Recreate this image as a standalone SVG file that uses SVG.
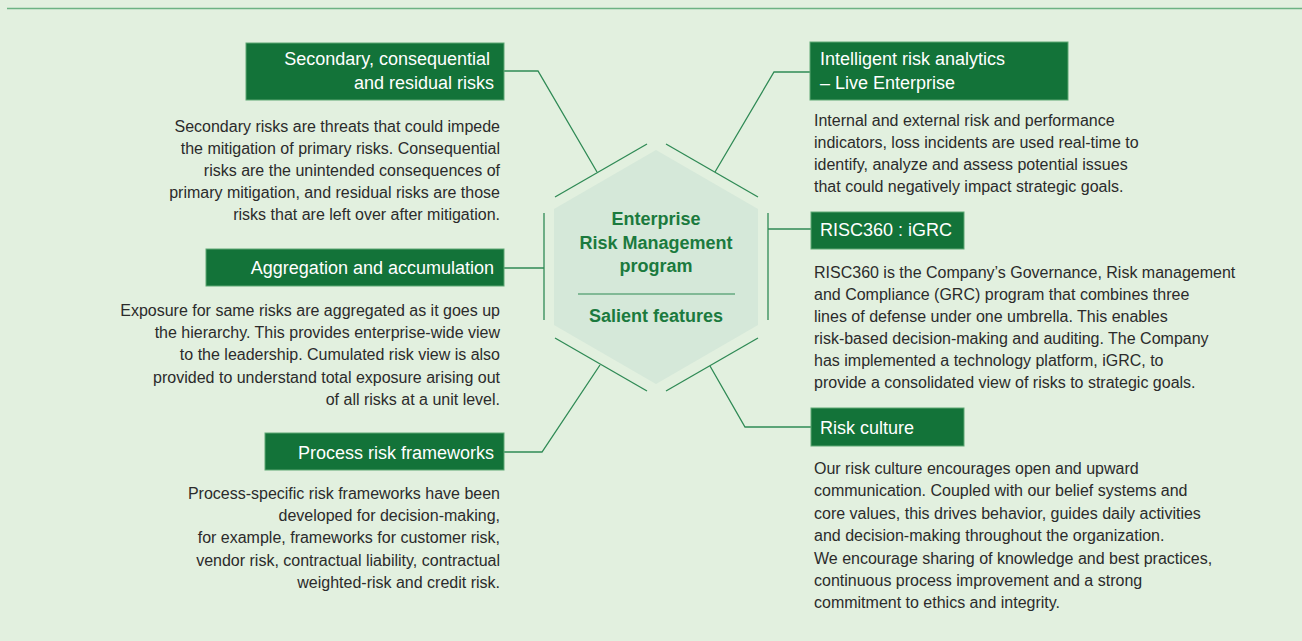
<svg xmlns="http://www.w3.org/2000/svg" width="1302" height="641" viewBox="0 0 1302 641">
<style>
.bg{fill:#e2f0df}
.box{fill:#137339;stroke:#5ea875;stroke-width:1}
.ttl{font-family:"Liberation Sans",Arial,sans-serif;font-size:18px;fill:#ffffff}
.body{font-family:"Liberation Sans",Arial,sans-serif;font-size:16px;fill:#2b2b2b}
.r{text-anchor:end}
.hex{fill:#d5e8d9}
.hxt{font-family:"Liberation Sans",Arial,sans-serif;font-size:18px;font-weight:bold;fill:#1b7a3e;text-anchor:middle}
.ln{fill:none;stroke:#2f8a55;stroke-width:1.3}
</style>
<rect class="bg" x="0" y="0" width="1302" height="641"/>
<line x1="7" y1="8.5" x2="1302" y2="8.5" stroke="#6db283" stroke-width="1.6"/>

<g id="center">
<polygon class="hex" points="656,150 758,209 758,325 656,384 554,325 554,209"/>
<g class="ln">
<line x1="555" y1="197" x2="647" y2="144"/>
<line x1="666" y1="144" x2="758" y2="197"/>
<line x1="768" y1="213" x2="768" y2="320"/>
<line x1="758" y1="338" x2="666" y2="391"/>
<line x1="647" y1="391" x2="555" y2="338"/>
<line x1="544" y1="213" x2="544" y2="320"/>
</g>
<text class="hxt" x="656" y="225">Enterprise</text>
<text class="hxt" x="656" y="249">Risk Management</text>
<text class="hxt" x="656" y="272">program</text>
<line x1="578" y1="294" x2="735" y2="294" stroke="#2f8a55" stroke-width="1.2"/>
<text class="hxt" x="656" y="322">Salient features</text>
</g>

<g id="connectors" class="ln">
<path d="M504,71 H538 L597,172"/>
<path d="M504,268 H544"/>
<path d="M504,452 H542 L600,365"/>
<path d="M810,72 H774 L715,172"/>
<path d="M811,229 H768"/>
<path d="M811,427 H745 L710,366"/>
</g>

<g id="secondary">
<rect class="box" x="246" y="43" width="258" height="57"/>
<text class="ttl r" x="490" y="65">Secondary, consequential</text>
<text class="ttl r" x="494" y="89">and residual risks</text>
<text class="body r" x="500" y="131.5">Secondary risks are threats that could impede</text>
<text class="body r" x="500" y="153.5">the mitigation of primary risks. Consequential</text>
<text class="body r" x="500" y="175.5">risks are the unintended consequences of</text>
<text class="body r" x="500" y="197.5">primary mitigation, and residual risks are those</text>
<text class="body r" x="500" y="219.5">risks that are left over after mitigation.</text>
</g>

<g id="aggregation">
<rect class="box" x="206" y="249" width="298" height="37"/>
<text class="ttl r" x="494" y="274">Aggregation and accumulation</text>
<text class="body r" x="500" y="316">Exposure for same risks are aggregated as it goes up</text>
<text class="body r" x="500" y="338.2">the hierarchy. This provides enterprise-wide view</text>
<text class="body r" x="500" y="360.4">to the leadership. Cumulated risk view is also</text>
<text class="body r" x="500" y="382.6">provided to understand total exposure arising out</text>
<text class="body r" x="500" y="404.8">of all risks at a unit level.</text>
</g>

<g id="process">
<rect class="box" x="265" y="433" width="239" height="37"/>
<text class="ttl r" x="494" y="459">Process risk frameworks</text>
<text class="body r" x="500" y="499">Process-specific risk frameworks have been</text>
<text class="body r" x="500" y="521.2">developed for decision-making,</text>
<text class="body r" x="500" y="543.4">for example, frameworks for customer risk,</text>
<text class="body r" x="500" y="565.6">vendor risk, contractual liability, contractual</text>
<text class="body r" x="500" y="587.8">weighted-risk and credit risk.</text>
</g>

<g id="intelligent">
<rect class="box" x="810" y="42" width="258" height="58"/>
<text class="ttl" x="820" y="65">Intelligent risk analytics</text>
<text class="ttl" x="820" y="89">– Live Enterprise</text>
<text class="body" x="814" y="126">Internal and external risk and performance</text>
<text class="body" x="814" y="148">indicators, loss incidents are used real-time to</text>
<text class="body" x="814" y="170">identify, analyze and assess potential issues</text>
<text class="body" x="814" y="192">that could negatively impact strategic goals.</text>
</g>

<g id="risc360">
<rect class="box" x="811" y="212" width="153" height="37"/>
<text class="ttl" x="820" y="236">RISC360 : iGRC</text>
<text class="body" x="814" y="278">RISC360 is the Company’s Governance, Risk management</text>
<text class="body" x="814" y="300">and Compliance (GRC) program that combines three</text>
<text class="body" x="814" y="322">lines of defense under one umbrella. This enables</text>
<text class="body" x="814" y="344">risk-based decision-making and auditing. The Company</text>
<text class="body" x="814" y="366">has implemented a technology platform, iGRC, to</text>
<text class="body" x="814" y="388">provide a consolidated view of risks to strategic goals.</text>
</g>

<g id="culture">
<rect class="box" x="811" y="408" width="153" height="38"/>
<text class="ttl" x="820" y="434">Risk culture</text>
<text class="body" x="814" y="474">Our risk culture encourages open and upward</text>
<text class="body" x="814" y="496.4">communication. Coupled with our belief systems and</text>
<text class="body" x="814" y="518.8">core values, this drives behavior, guides daily activities</text>
<text class="body" x="814" y="541.2">and decision-making throughout the organization.</text>
<text class="body" x="814" y="563.6">We encourage sharing of knowledge and best practices,</text>
<text class="body" x="814" y="586">continuous process improvement and a strong</text>
<text class="body" x="814" y="608.4">commitment to ethics and integrity.</text>
</g>
</svg>
